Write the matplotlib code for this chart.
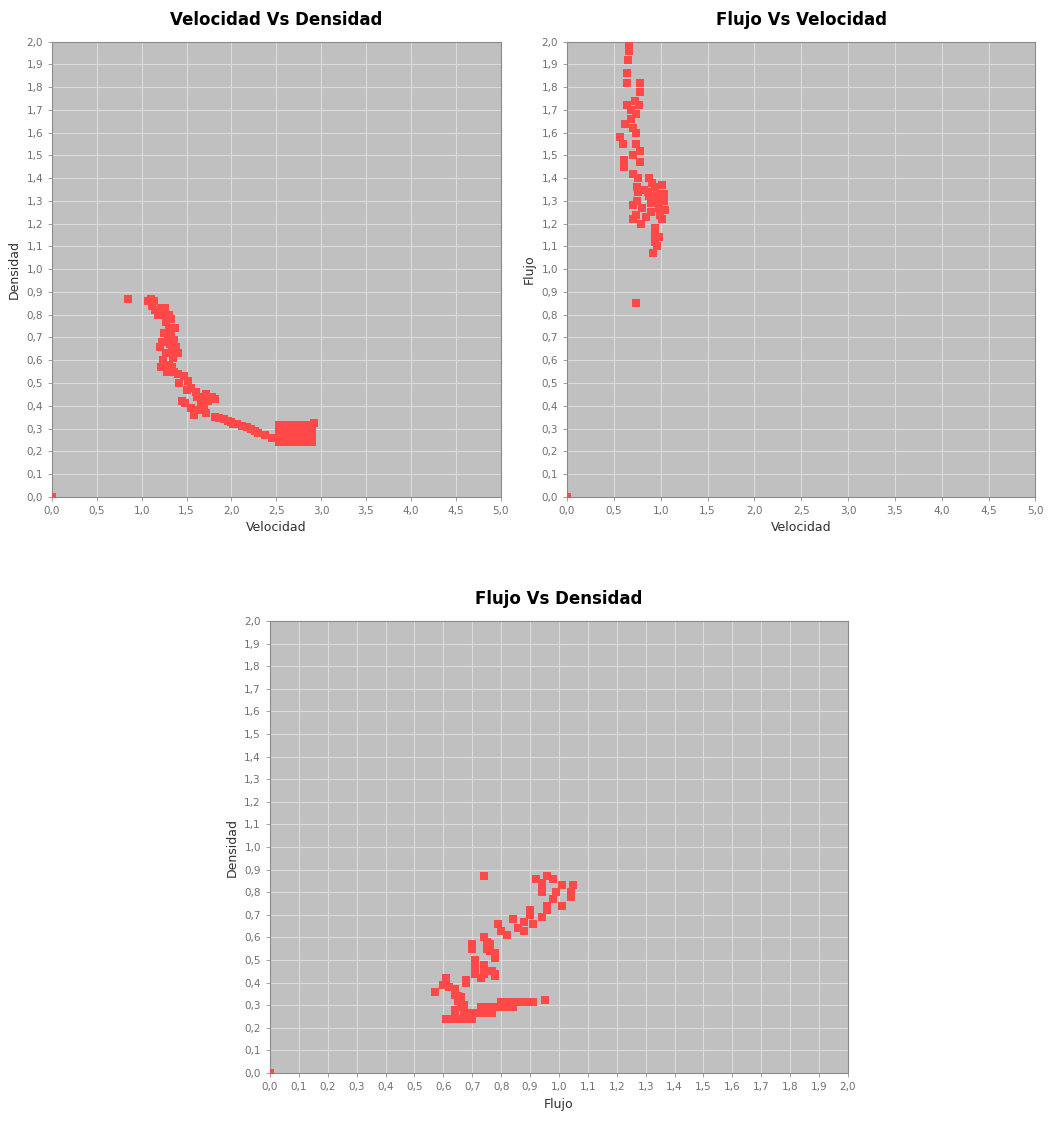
import numpy as np
import matplotlib
matplotlib.use('Agg')
import matplotlib.pyplot as plt
from matplotlib.ticker import FuncFormatter, MultipleLocator

plt.rcParams['font.family'] = 'DejaVu Sans'

# datos (velocidad, densidad, flujo)
velocidad = [0.00, 0.85,
             1.07, 1.10, 1.12, 1.14, 1.15, 1.18, 1.22, 1.24, 1.26, 1.27, 1.30, 1.30,
             1.33, 1.33, 1.36, 1.37, 1.38, 1.25, 1.29, 1.32, 1.23, 1.20, 1.40,
             1.34, 1.35, 1.27, 1.24, 1.22, 1.28, 1.30, 1.34, 1.36, 1.40, 1.42, 1.47,
             1.50, 1.52, 1.55, 1.60, 1.62, 1.68, 1.72, 1.74, 1.78, 1.82,
             1.45, 1.48, 1.55, 1.58, 1.64, 1.66, 1.70, 1.72, 1.82, 1.86, 1.92, 1.96,
             1.99, 2.02, 2.06, 2.12, 2.17, 2.22, 2.26, 2.30, 2.38, 2.45,
             2.53, 2.60, 2.68, 2.75, 2.83, 2.90,
             2.53, 2.60, 2.68, 2.75, 2.83, 2.90,
             2.53, 2.60, 2.68, 2.75, 2.83, 2.90,
             2.53, 2.60, 2.68, 2.75, 2.83, 2.90, 2.92]
densidad = [0.00, 0.87,
            0.86, 0.87, 0.84, 0.86, 0.82, 0.80, 0.83, 0.80, 0.83, 0.77, 0.80, 0.74,
            0.72, 0.78, 0.69, 0.74, 0.66, 0.72, 0.70, 0.67, 0.68, 0.66, 0.63,
            0.64, 0.61, 0.63, 0.60, 0.57, 0.55, 0.58, 0.57, 0.55, 0.54, 0.50, 0.53,
            0.47, 0.51, 0.48, 0.46, 0.44, 0.44, 0.45, 0.42, 0.44, 0.43,
            0.42, 0.41, 0.39, 0.36, 0.38, 0.41, 0.40, 0.37, 0.35, 0.345, 0.34, 0.335,
            0.33, 0.32, 0.32, 0.31, 0.305, 0.30, 0.29, 0.28, 0.27, 0.26,
            0.240, 0.240, 0.240, 0.240, 0.240, 0.240,
            0.265, 0.265, 0.265, 0.265, 0.265, 0.265,
            0.290, 0.290, 0.290, 0.290, 0.290, 0.290,
            0.315, 0.315, 0.315, 0.315, 0.315, 0.315, 0.325]
flujo = [0.00, 0.74,
         0.92, 0.96, 0.94, 0.98, 0.94, 0.94, 1.01, 0.99, 1.05, 0.98, 1.04, 0.96,
         0.96, 1.04, 0.94, 1.01, 0.91, 0.90, 0.90, 0.88, 0.84, 0.79, 0.88,
         0.86, 0.82, 0.80, 0.74, 0.70, 0.70, 0.75, 0.76, 0.75, 0.76, 0.71, 0.78,
         0.71, 0.78, 0.74, 0.74, 0.71, 0.74, 0.77, 0.73, 0.78, 0.78,
         0.61, 0.61, 0.60, 0.57, 0.62, 0.68, 0.68, 0.64, 0.64, 0.64, 0.65, 0.66,
         0.66, 0.65, 0.66, 0.66, 0.66, 0.67, 0.66, 0.64, 0.64, 0.64,
         0.61, 0.62, 0.64, 0.66, 0.68, 0.70,
         0.67, 0.69, 0.71, 0.73, 0.75, 0.77,
         0.73, 0.75, 0.78, 0.80, 0.82, 0.84,
         0.80, 0.82, 0.84, 0.87, 0.89, 0.91, 0.95]

rojo = '#ff4848'
fondo = '#c0c0c0'

fmt = FuncFormatter(lambda v, p: ('%.1f' % v).replace('.', ','))


def panel(ax, x, y, xmax, xstep, title, xlabel, ylabel):
    ax.set_facecolor(fondo)
    ax.scatter(x, y, s=30, marker='s', color=rojo, linewidths=0, zorder=3)
    ax.set_xlim(0, xmax)
    ax.set_ylim(0, 2.0)
    ax.xaxis.set_major_locator(MultipleLocator(xstep))
    ax.yaxis.set_major_locator(MultipleLocator(0.1))
    ax.xaxis.set_major_formatter(fmt)
    ax.yaxis.set_major_formatter(fmt)
    ax.grid(True, color='#dcdcdc', lw=0.8, zorder=1)
    ax.tick_params(labelsize=7.5, labelcolor='#707070', color='#909090',
                   length=3, width=0.6)
    for s in ax.spines.values():
        s.set_color('#8a8a8a')
        s.set_linewidth(0.8)
    ax.set_title(title, fontsize=12, fontweight='bold', pad=12)
    ax.set_xlabel(xlabel, fontsize=9, color='#303030', labelpad=4)
    ax.set_ylabel(ylabel, fontsize=9, color='#303030', labelpad=4)


fig = plt.figure(figsize=(10.48, 11.24), dpi=100)

ax1 = fig.add_axes([0.0496, 0.558, 0.428, 0.405])
panel(ax1, velocidad, densidad, 5.0, 0.5, 'Velocidad Vs Densidad',
      'Velocidad', 'Densidad')

ax2 = fig.add_axes([0.541, 0.558, 0.447, 0.405])
panel(ax2, flujo, velocidad, 5.0, 0.5, 'Flujo Vs Velocidad',
      'Velocidad', 'Flujo')

ax3 = fig.add_axes([0.2576, 0.0454, 0.5515, 0.402])
panel(ax3, flujo, densidad, 2.0, 0.1, 'Flujo Vs Densidad',
      'Flujo', 'Densidad')

plt.savefig('out.png', dpi=100)
plt.close(fig)
